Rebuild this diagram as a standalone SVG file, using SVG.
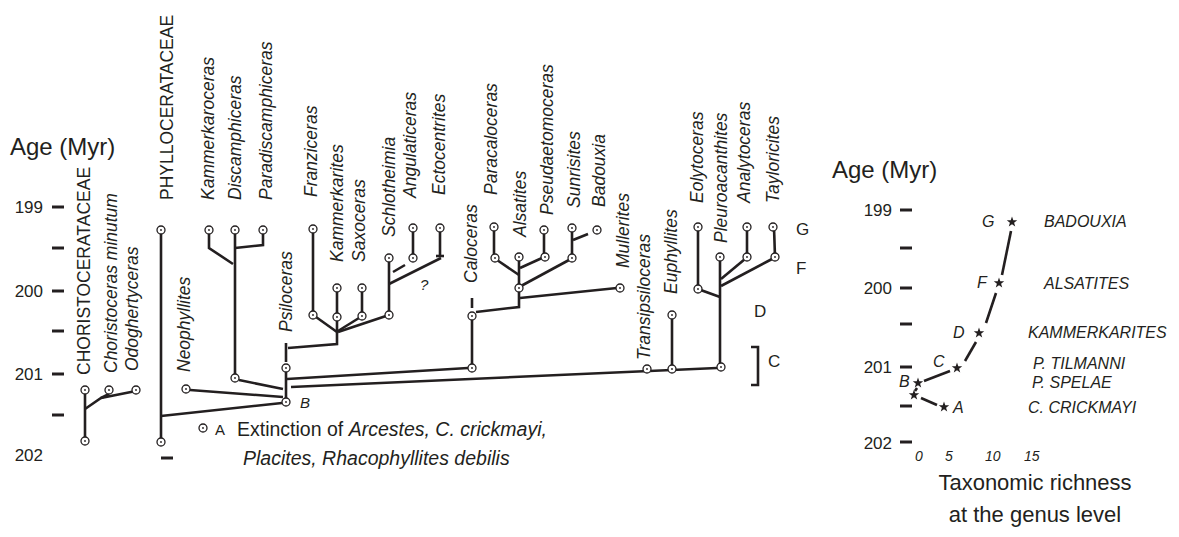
<svg xmlns="http://www.w3.org/2000/svg" xmlns:xlink="http://www.w3.org/1999/xlink" width="1179" height="537" viewBox="0 0 1179 537">
  <style>
    text { font-family: "Liberation Sans", Arial, Helvetica, sans-serif; fill: #231f20; }
    .ax { font-size: 24px; }
    .tk { font-size: 17px; }
    .nm { font-size: 17.5px; font-style: italic; }
    .cp { font-size: 17.5px; }
    .sm { font-size: 15px; font-style: italic; }
    .lt { font-size: 17px; }
    .rl { font-size: 16px; font-style: italic; }
    .xn { font-size: 14px; font-style: italic; }
    .lg { font-size: 19.5px; }
    .ln { stroke: #231f20; stroke-width: 2.6; fill: none; }
    .tick { stroke: #231f20; stroke-width: 3; }
    .nd { fill: #fff; stroke: #231f20; stroke-width: 1.3; }
    .dot { fill: #231f20; }
    .star { fill: #231f20; }
  </style>
  <defs>
    <g id="o">
      <circle class="nd" r="4"/>
      <circle class="dot" r="0.9"/>
    </g>
    <path id="st" class="star" d="M0,-5.5 L1.29,-1.78 L5.23,-1.7 L2.09,0.68 L3.23,4.45 L0,2.2 L-3.23,4.45 L-2.09,0.68 L-5.23,-1.7 L-1.29,-1.78 Z"/>
  </defs>

  <rect width="1179" height="537" fill="#fff"/>

  <!-- Age scale of the tree -->
  <g id="age-axis-left">
    <text class="ax" x="10" y="155">Age (Myr)</text>
    <g class="tk" text-anchor="end">
      <text x="43" y="213">199</text>
      <text x="43" y="297">200</text>
      <text x="43" y="380">201</text>
      <text x="43" y="461">202</text>
    </g>
    <g class="tick">
      <line x1="52" y1="207" x2="64" y2="207"/>
      <line x1="52" y1="248" x2="64" y2="248"/>
      <line x1="52" y1="291" x2="64" y2="291"/>
      <line x1="52" y1="331" x2="64" y2="331"/>
      <line x1="52" y1="374" x2="64" y2="374"/>
      <line x1="52" y1="415" x2="64" y2="415"/>
      <line x1="161" y1="458" x2="173" y2="458"/>
    </g>
  </g>

  <!-- branches of the tree -->
  <g id="connectors" class="ln">
    <!-- Choristoceratacea -->
    <line x1="85" y1="390" x2="85" y2="441"/>
    <polyline points="85,409 101,398 136,391"/>
    <line x1="101" y1="398" x2="109" y2="394"/>
    <!-- Phylloceratacea stem -->
    <line x1="161" y1="230" x2="161" y2="442"/>
    <line x1="161" y1="416" x2="282" y2="403"/>
    <!-- Discamphiceratidae -->
    <polyline points="209,234 209,248 233,264"/>
    <line x1="235" y1="230" x2="235" y2="378"/>
    <polyline points="263,234 263,245 235,248"/>
    <line x1="239" y1="380" x2="283" y2="389"/>
    <!-- Neophyllites -->
    <line x1="190" y1="390" x2="283" y2="397"/>
    <!-- Psiloceras -->
    <line x1="286" y1="368" x2="286" y2="402"/>
    <line x1="286" y1="343" x2="286" y2="362"/>
    <polyline points="288,348 337,344 337,332"/>
    <!-- Schlotheimiidae cluster -->
    <line x1="337" y1="332" x2="316" y2="317"/>
    <line x1="337" y1="332" x2="337" y2="317"/>
    <line x1="338" y1="331" x2="359" y2="318"/>
    <line x1="338" y1="332" x2="386" y2="316"/>
    <line x1="313" y1="229" x2="313" y2="315"/>
    <line x1="337" y1="288" x2="337" y2="317"/>
    <line x1="362" y1="288" x2="362" y2="316"/>
    <line x1="389" y1="258" x2="389" y2="315"/>
    <line x1="389" y1="284" x2="441" y2="258"/>
    <line x1="393" y1="272" x2="405" y2="265"/>
    <line x1="413" y1="228" x2="413" y2="258"/>
    <line x1="440" y1="228" x2="440" y2="257"/>
    <line x1="436" y1="256" x2="444" y2="256"/>
    <!-- links from B -->
    <line x1="287" y1="379" x2="468" y2="368"/>
    <line x1="291" y1="387" x2="717" y2="368"/>
    <!-- Caloceras and Arietitidae -->
    <line x1="472" y1="316" x2="472" y2="368"/>
    <line x1="472" y1="298" x2="472" y2="308"/>
    <polyline points="476,312 519,307 519,288"/>
    <line x1="520" y1="298" x2="617" y2="288"/>
    <line x1="519" y1="257" x2="519" y2="288"/>
    <line x1="519" y1="275" x2="497" y2="260"/>
    <line x1="520" y1="268" x2="542" y2="258"/>
    <line x1="521" y1="286" x2="569" y2="260"/>
    <line x1="494" y1="227" x2="494" y2="258"/>
    <line x1="544" y1="230" x2="544" y2="257"/>
    <line x1="572" y1="228" x2="572" y2="258"/>
    <line x1="588" y1="234" x2="573" y2="240"/>
    <!-- Euphyllites and Lytoceratoidea -->
    <line x1="672" y1="315" x2="672" y2="369"/>
    <line x1="720" y1="257" x2="720" y2="367"/>
    <polyline points="698,227 698,289 720,297"/>
    <line x1="721" y1="279" x2="745" y2="259"/>
    <line x1="721" y1="286" x2="772" y2="259"/>
    <line x1="747" y1="227" x2="747" y2="257"/>
    <line x1="774" y1="227" x2="775" y2="257"/>
    <!-- interval C -->
    <polyline points="751,347 758,347 758,385 751,385"/>
  </g>

  <!-- taxa -->
  <g id="choristoceratacea">
    <text class="cp" transform="translate(90,375) rotate(-90)">CHORISTOCERATACEAE</text>
    <use xlink:href="#o" x="85" y="390"/>
    <use xlink:href="#o" x="85" y="441"/>
  </g>
  <g id="choristoceras">
    <text class="nm" transform="translate(117,373) rotate(-90)">Choristoceras minutum</text>
    <use xlink:href="#o" x="109" y="390"/>
  </g>
  <g id="odoghertyceras">
    <text class="nm" transform="translate(138,371) rotate(-90)">Odoghertyceras</text>
    <use xlink:href="#o" x="136" y="390"/>
  </g>
  <g id="phylloceratacea">
    <text class="cp" transform="translate(173,200) rotate(-90)">PHYLLOCERATACEAE</text>
    <use xlink:href="#o" x="161" y="230"/>
    <use xlink:href="#o" x="161" y="442"/>
  </g>
  <g id="kammerkaroceras">
    <text class="nm" transform="translate(214,200) rotate(-90)">Kammerkaroceras</text>
    <use xlink:href="#o" x="209" y="230"/>
  </g>
  <g id="discamphiceras">
    <text class="nm" transform="translate(241,200) rotate(-90)">Discamphiceras</text>
    <use xlink:href="#o" x="235" y="230"/>
    <use xlink:href="#o" x="235" y="378"/>
  </g>
  <g id="paradiscamphiceras">
    <text class="nm" transform="translate(272,200) rotate(-90)">Paradiscamphiceras</text>
    <use xlink:href="#o" x="263" y="230"/>
  </g>
  <g id="neophyllites">
    <text class="nm" transform="translate(190,372) rotate(-90)">Neophyllites</text>
    <use xlink:href="#o" x="186" y="389"/>
  </g>
  <g id="psiloceras">
    <text class="nm" transform="translate(292,332) rotate(-90)">Psiloceras</text>
    <use xlink:href="#o" x="286" y="368"/>
    <use xlink:href="#o" x="286" y="402"/>
    <text class="sm" x="300" y="408">B</text>
  </g>
  <g id="franziceras">
    <text class="nm" transform="translate(317,197) rotate(-90)">Franziceras</text>
    <use xlink:href="#o" x="313" y="229"/>
    <use xlink:href="#o" x="313" y="315"/>
  </g>
  <g id="kammerkarites">
    <text class="nm" transform="translate(343,262) rotate(-90)">Kammerkarites</text>
    <use xlink:href="#o" x="337" y="288"/>
    <use xlink:href="#o" x="337" y="317"/>
  </g>
  <g id="saxoceras">
    <text class="nm" transform="translate(365,262) rotate(-90)">Saxoceras</text>
    <use xlink:href="#o" x="362" y="288"/>
    <use xlink:href="#o" x="362" y="316"/>
  </g>
  <g id="schlotheimia">
    <text class="nm" transform="translate(395,237) rotate(-90)">Schlotheimia</text>
    <use xlink:href="#o" x="389" y="258"/>
    <use xlink:href="#o" x="389" y="315"/>
    <text class="sm" x="420" y="290">?</text>
  </g>
  <g id="angulaticeras">
    <text class="nm" transform="translate(416,198) rotate(-90)">Angulaticeras</text>
    <use xlink:href="#o" x="413" y="228"/>
    <use xlink:href="#o" x="413" y="258"/>
  </g>
  <g id="ectocentrites">
    <text class="nm" transform="translate(445,195) rotate(-90)">Ectocentrites</text>
    <use xlink:href="#o" x="440" y="228"/>
  </g>
  <g id="caloceras">
    <text class="nm" transform="translate(477,283) rotate(-90)">Caloceras</text>
    <use xlink:href="#o" x="472" y="316"/>
    <use xlink:href="#o" x="472" y="368"/>
  </g>
  <g id="paracaloceras">
    <text class="nm" transform="translate(497,195) rotate(-90)">Paracaloceras</text>
    <use xlink:href="#o" x="494" y="227"/>
    <use xlink:href="#o" x="495" y="258"/>
  </g>
  <g id="alsatites">
    <text class="nm" transform="translate(526,237) rotate(-90)">Alsatites</text>
    <use xlink:href="#o" x="519" y="257"/>
    <use xlink:href="#o" x="519" y="288"/>
  </g>
  <g id="pseudaetomoceras">
    <text class="nm" transform="translate(553,215) rotate(-90)">Pseudaetomoceras</text>
    <use xlink:href="#o" x="544" y="230"/>
    <use xlink:href="#o" x="545" y="257"/>
  </g>
  <g id="sunrisites">
    <text class="nm" transform="translate(580,208) rotate(-90)">Sunrisites</text>
    <use xlink:href="#o" x="572" y="228"/>
    <use xlink:href="#o" x="572" y="258"/>
  </g>
  <g id="badouxia">
    <text class="nm" transform="translate(605,207) rotate(-90)">Badouxia</text>
    <use xlink:href="#o" x="597" y="230"/>
  </g>
  <g id="mullerites">
    <text class="nm" transform="translate(629,268) rotate(-90)">Mullerites</text>
    <use xlink:href="#o" x="620" y="288"/>
  </g>
  <g id="transipsiloceras">
    <text class="nm" transform="translate(650,360) rotate(-90)">Transipsiloceras</text>
    <use xlink:href="#o" x="647" y="369"/>
  </g>
  <g id="euphyllites">
    <text class="nm" transform="translate(677,294) rotate(-90)">Euphyllites</text>
    <use xlink:href="#o" x="672" y="315"/>
    <use xlink:href="#o" x="672" y="369"/>
  </g>
  <g id="eolytoceras">
    <text class="nm" transform="translate(703,203) rotate(-90)">Eolytoceras</text>
    <use xlink:href="#o" x="698" y="227"/>
    <use xlink:href="#o" x="698" y="289"/>
  </g>
  <g id="pleuroacanthites">
    <text class="nm" transform="translate(727,243) rotate(-90)">Pleuroacanthites</text>
    <use xlink:href="#o" x="720" y="257"/>
    <use xlink:href="#o" x="721" y="367"/>
  </g>
  <g id="analytoceras">
    <text class="nm" transform="translate(750,203) rotate(-90)">Analytoceras</text>
    <use xlink:href="#o" x="747" y="227"/>
    <use xlink:href="#o" x="747" y="257"/>
  </g>
  <g id="tayloricites">
    <text class="nm" transform="translate(779,203) rotate(-90)">Tayloricites</text>
    <use xlink:href="#o" x="773" y="227"/>
    <use xlink:href="#o" x="775" y="257"/>
  </g>

  <!-- interval letters -->
  <g id="intervals" class="lt">
    <text x="796" y="235">G</text>
    <text x="796" y="274">F</text>
    <text x="754" y="317">D</text>
    <text x="768" y="367">C</text>
  </g>

  <!-- extinction note -->
  <g id="legend-a">
    <use xlink:href="#o" x="203" y="428"/>
    <text x="215" y="435" style="font-size:15px">A</text>
    <text class="lg" x="237" y="436">Extinction of <tspan font-style="italic">Arcestes, C. crickmayi,</tspan></text>
    <text class="lg" x="243" y="465" font-style="italic">Placites, Rhacophyllites debilis</text>
  </g>

  <!-- richness curve -->
  <g id="richness-chart">
    <text class="ax" x="832" y="178">Age (Myr)</text>
    <g class="tk" text-anchor="end">
      <text x="892" y="216">199</text>
      <text x="892" y="294">200</text>
      <text x="892" y="373">201</text>
      <text x="892" y="449">202</text>
    </g>
    <g class="tick">
      <line x1="900" y1="210" x2="912" y2="210"/>
      <line x1="900" y1="248" x2="912" y2="248"/>
      <line x1="900" y1="288" x2="912" y2="288"/>
      <line x1="900" y1="324" x2="912" y2="324"/>
      <line x1="900" y1="367" x2="912" y2="367"/>
      <line x1="900" y1="406" x2="912" y2="406"/>
      <line x1="900" y1="442" x2="912" y2="442"/>
    </g>
    <g class="xn">
      <text x="915" y="461">0</text>
      <text x="945" y="461">5</text>
      <text x="985" y="461">10</text>
      <text x="1024" y="461">15</text>
    </g>
    <g class="ln">
      <line x1="1011" y1="231" x2="1002" y2="275"/>
      <line x1="996" y1="293" x2="986" y2="323"/>
      <line x1="976" y1="342" x2="965" y2="361"/>
      <line x1="950" y1="371" x2="924" y2="381"/>
      <line x1="917" y1="388" x2="915" y2="391"/>
      <line x1="921" y1="398" x2="937" y2="405"/>
    </g>
    <use xlink:href="#st" x="1012" y="222"/>
    <use xlink:href="#st" x="999" y="283"/>
    <use xlink:href="#st" x="979" y="333"/>
    <use xlink:href="#st" x="957" y="368"/>
    <use xlink:href="#st" x="918" y="383"/>
    <use xlink:href="#st" x="914" y="395"/>
    <use xlink:href="#st" x="944" y="407"/>
    <g class="rl">
      <text x="982" y="227">G</text>
      <text x="977" y="288">F</text>
      <text x="953" y="338">D</text>
      <text x="933" y="367">C</text>
      <text x="899" y="387">B</text>
      <text x="953" y="413">A</text>
      <text x="1044" y="227">BADOUXIA</text>
      <text x="1044" y="289">ALSATITES</text>
      <text x="1028" y="338">KAMMERKARITES</text>
      <text x="1033" y="369">P. TILMANNI</text>
      <text x="1032" y="388">P. SPELAE</text>
      <text x="1028" y="413">C. CRICKMAYI</text>
    </g>
    <g text-anchor="middle" style="font-size:22px">
      <text x="1035" y="490">Taxonomic richness</text>
      <text x="1035" y="522">at the genus level</text>
    </g>
  </g>
</svg>
